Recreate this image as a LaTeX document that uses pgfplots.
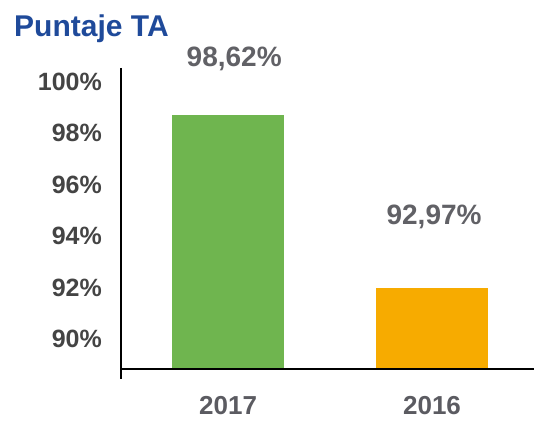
\documentclass[border=0pt]{standalone}
\usepackage{pgfplots}
\pgfplotsset{compat=1.18}
\usepackage{fontspec}
\setmainfont{Liberation Sans}

\definecolor{titleblue}{HTML}{1F4A9A}
\definecolor{barGreen}{HTML}{6FB54F}
\definecolor{barOrange}{HTML}{F7AB00}
\definecolor{tickgray}{HTML}{444444}
\definecolor{valgray}{HTML}{616166}
\definecolor{yeargray}{HTML}{5B5B61}

\begin{document}
\begin{tikzpicture}
	\useasboundingbox (0,0) rectangle (534bp,421bp);
	\node[anchor=base west, inner sep=0pt, text=titleblue, font=\fontsize{30bp}{36bp}\selectfont\bfseries] at (14bp,384bp) {Puntaje TA};
	\begin{axis}[
		at={(121bp,52bp)}, anchor=south west,
		scale only axis,
		width=413bp, height=301bp,
		xmin=-0.525, xmax=1.5,
		ymin=88.83, ymax=100.54,
		ybar, bar width=0.55, bar shift=0pt,
		clip mode=individual,
		axis line style={draw=none},
		tick style={draw=none},
		major tick length=0pt,
		xtick={0,1}, xticklabels={2017,2016},
		ytick={90,92,94,96,98,100},
		yticklabels={90\%,92\%,94\%,96\%,98\%,100\%},
		xticklabel style={anchor=north, inner sep=0pt, text=yeargray, font=\fontsize{26bp}{32bp}\selectfont\bfseries},
		yticklabel style={anchor=east, inner sep=0pt, text=tickgray, font=\fontsize{25bp}{30bp}\selectfont\bfseries},
		xticklabel shift=27bp,
		yticklabel shift=19bp,
		]
		\addplot[fill=barGreen, draw=none, bar shift=0pt] coordinates {(0,98.7)};
		\addplot[fill=barOrange, draw=none, bar shift=0pt] coordinates {(1,92.0)};
		\draw[line width=1.5bp, black] (rel axis cs:0,0) -- (rel axis cs:1,0);
		\draw[line width=1.5bp, black] (rel axis cs:0,1) -- ([yshift=-10bp]rel axis cs:0,0);
		\node[text=valgray, font=\fontsize{28bp}{34bp}\selectfont\bfseries] at (axis cs:0.03,100.9) {98,62\%};
		\node[text=valgray, font=\fontsize{28bp}{34bp}\selectfont\bfseries] at (axis cs:1.01,94.75) {92,97\%};
	\end{axis}
\end{tikzpicture}
\end{document}
